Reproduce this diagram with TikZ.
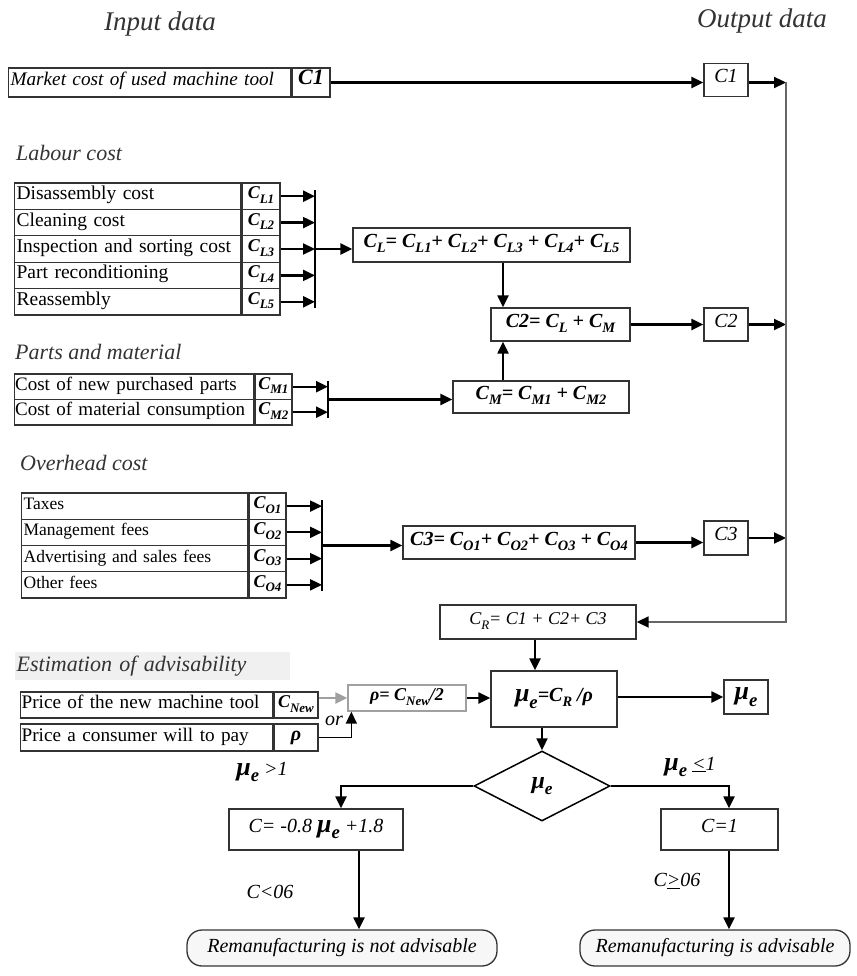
\documentclass[tikz,border=0pt]{standalone}
\usepackage{fontspec}
\setmainfont{Liberation Serif}
\usepackage{graphicx}
\usetikzlibrary{arrows.meta,shapes.geometric,calc}
% subscript set in the current font
\newcommand\sbs[1]{\raisebox{-0.25em}{\scalebox{0.72}{#1}}}
\newcommand\fsz[1]{\fontsize{#1}{#1}\selectfont}
\newcommand\bi{\bfseries\itshape}
\newcommand\mue[1]{{\fsz{#1}\bi μ\sbs{e}}}
\definecolor{boxline}{HTML}{333333}
\definecolor{busline}{HTML}{666666}
\definecolor{greyline}{HTML}{A0A0A0}
\definecolor{bandfill}{HTML}{F0F0F0}
\definecolor{roundfill}{HTML}{F7F7F7}

\begin{document}
\begin{tikzpicture}[x=1pt,y=-1pt,
  bx/.style={draw=boxline, line width=1.3pt, inner sep=0pt, text height=0.7em, text depth=0.2em},
  lab/.style={bx, anchor=west, align=left, inner xsep=3pt, font=\fsz{19.5}, text height=0.8em, text depth=0.1em},
  cell/.style={bx, anchor=west, font=\fsz{18}\bi},
  outbox/.style={bx, minimum width=44pt, font=\fsz{20}\itshape},
  sec/.style={anchor=west, inner sep=0pt, font=\fsz{22}\itshape, text=black!80},
  hdr/.style={inner sep=0pt, font=\fsz{27}\itshape, text=black!80},
  note/.style={inner sep=0pt, font=\fsz{20}\itshape},
  endbox/.style={draw=boxline, line width=1.3pt, rounded corners=15pt, fill=roundfill,
    minimum height=36pt, font=\fsz{20}\itshape},
  ln/.style={line width=2.2pt},
  arr/.style={line width=2.2pt, -{Triangle[length=12pt,width=11pt]}},
  garr/.style={line width=2.2pt, draw=greyline, -{Triangle[length=12pt,width=11pt,color=greyline]}},
  bus/.style={line width=1.8pt, draw=busline, -{Triangle[length=12pt,width=11pt,color=black]}},
]
\useasboundingbox (0,0) rectangle (856,976);

% column headers
\node[hdr] (hin) at (160,24) {Input data};
\node[hdr] (hout) at (762,21) {Output data};

% market cost of the used machine tool
\node[lab, text width=278pt, inner xsep=2pt, minimum height=29pt, font=\fsz{19.2}\itshape] (mk) at (8,82.5) {Market cost of used machine tool};
\node[cell, minimum width=38pt, minimum height=29pt, font=\fsz{22}\bi] (mkc) at (mk.east) {C1};
\node[outbox, minimum height=33pt] (o1) at (726,80) {C1};
\coordinate (b1) at (786,82.5);
\draw[arr] (mkc.east) -- (mkc.east -| o1.west);
\draw[arr] (o1.east |- b1) -- (b1);

% labour cost
\node[sec] (lcost) at (16,153) {Labour cost};
\coordinate (lbar) at (315,249);
\foreach \t/\s [count=\i] in {Disassembly cost/L1, Cleaning cost/L2,
    Inspection and sorting cost/L3, Part reconditioning/L4, Reassembly/L5}{
  \node[lab, text width=222pt, inner xsep=2pt, minimum height=26.4pt] (l\i) at (14,{196.2+(\i-1)*26.4}) {\t};
  \node[cell, minimum width=38pt, minimum height=26.4pt] (lc\i) at (l\i.east) {C\sbs{\s}};
  \draw[arr] (lc\i.east) -- (lc\i.east -| lbar);
}
\draw[ln] ($(lbar |- lc1.east)+(0,-6)$) -- ($(lbar |- lc5.east)+(0,6)$);
\node[bx, minimum width=277pt, minimum height=34pt, font=\fsz{20}\bi] (cl) at (491.5,245)
  {C\sbs{L}= C\sbs{L1}+ C\sbs{L2}+ C\sbs{L3} + C\sbs{L4}+ C\sbs{L5}};
\draw[arr] (lbar) -- (lbar -| cl.west);

% labour plus material
\node[bx, minimum width=139pt, minimum height=33pt, font=\fsz{20}\bi] (c2) at (560.5,324.5) {C2= C\sbs{L} + C\sbs{M}};
\coordinate (vx) at (503,0);
\draw[arr] (cl.south -| vx) -- (c2.north -| vx);
\node[outbox, minimum height=33pt] (o2) at (726,324.5) {C2};
\draw[arr] (c2.east) -- (o2.west);
\draw[arr] (o2.east) -- (o2.east -| b1);

% parts and material
\node[sec] (pmat) at (15,352) {Parts and material};
\coordinate (pbar) at (328,399.5);
\foreach \t/\s [count=\i] in {Cost of new purchased parts/M1, Cost of material consumption/M2}{
  \node[lab, text width=238pt, inner xsep=0.5pt, minimum height=25.5pt, font=\fsz{19}] (p\i) at (14,{386.7+(\i-1)*25.5}) {\t};
  \node[cell, minimum width=37pt, minimum height=25.5pt] (pc\i) at (p\i.east) {C\sbs{\s}};
  \draw[arr] (pc\i.east) -- (pc\i.east -| pbar);
}
\draw[ln] ($(pbar |- pc1.east)+(0,-6)$) -- ($(pbar |- pc2.east)+(0,6)$);
\node[bx, minimum width=176pt, minimum height=32pt, font=\fsz{20}\bi] (cm) at (541,397) {C\sbs{M}= C\sbs{M1} + C\sbs{M2}};
\draw[arr] (pbar) -- (pbar -| cm.west);
\draw[arr] (cm.north -| vx) -- (c2.south -| vx);

% overhead cost
\node[sec] (ohead) at (20,463) {Overhead cost};
\coordinate (hbar) at (322,545.5);
\foreach \t/\s [count=\i] in {Taxes/O1, Management fees/O2, Advertising and sales fees/O3, Other fees/O4}{
  \node[lab, text width=222pt, inner xsep=2pt, minimum height=26.25pt, font=\fsz{17.5}] (h\i) at (21,{506.1+(\i-1)*26.25}) {\t};
  \node[cell, minimum width=37pt, minimum height=26.25pt] (hc\i) at (h\i.east) {C\sbs{\s}};
  \draw[arr] (hc\i.east) -- (hc\i.east -| hbar);
}
\draw[ln] ($(hbar |- hc1.east)+(0,-6)$) -- ($(hbar |- hc4.east)+(0,6)$);
\node[bx, minimum width=232pt, minimum height=33pt, font=\fsz{20}\bi] (c3) at (519,542.5)
  {C3= C\sbs{O1}+ C\sbs{O2}+ C\sbs{O3} + C\sbs{O4}};
\draw[arr] (hbar) -- (hbar -| c3.west);
\node[outbox, minimum height=34pt] (o3) at (726,538) {C3};
\draw[arr] (c3.east) -- (c3.east -| o3.west);
\draw[arr] (o3.east) -- (o3.east -| b1);

% total remanufacturing cost
\node[bx, minimum width=196pt, minimum height=34pt, font=\fsz{18}\itshape] (cr) at (538,622) {C\sbs{R}= C1 + C2+ C3};
\coordinate (b4) at (786,622);
\draw[bus] (b1) -- (b4) -- (cr.east);

% estimation of advisability
\node[sec, fill=bandfill, text width=272pt, inner xsep=1.5pt, minimum height=28pt, align=left] (est) at (15,666) {Estimation of advisability};
\node[lab, text width=250pt, inner xsep=1pt, minimum height=26pt, font=\fsz{19.2}] (r1) at (20,705) {Price of the new machine tool};
\node[cell, minimum width=44pt, minimum height=26pt] (r1c) at (r1.east) {C\sbs{New}};
\node[lab, text width=250pt, inner xsep=1pt, minimum height=27pt, font=\fsz{19.2}] (r2) at (20,737.5) {Price a consumer will to pay};
\node[cell, minimum width=44pt, minimum height=27pt, font=\fsz{20}\bi] (r2c) at (r2.east) {ρ};
\node[bx, draw=greyline, minimum width=118pt, minimum height=26pt, font=\fsz{18}\bi] (rho) at (407,698) {ρ= C\sbs{New}/2};
\draw[garr] (r1c.east |- rho.west) -- (rho.west);
\node[note] (or) at (334,721) {or};
\draw[arr, line width=1.6pt] (r2c.east) -| ($(rho.south west)+(4,0)$);

\node[bx, minimum width=126pt, minimum height=56pt] (mu) at (554,699) {\mue{26}{\fsz{20}\bi=C\sbs{R} /ρ}};
\coordinate (ux) at (535,0);
\draw[arr] (cr.south -| ux) -- (mu.north -| ux);
\draw[arr] (rho.east) -- (rho.east -| mu.west);
\node[bx, minimum width=44pt, minimum height=34pt] (mo) at (746,697) {\mue{26}};
\draw[arr] (mu.east |- mo.west) -- (mo.west);

% decision
\node[draw=black, line width=1.5pt, diamond, minimum width=136pt, minimum height=70pt, inner sep=0pt] (dia) at (542,786) {\mue{24}};
\draw[arr] (mu.south -| dia.north) -- (dia.north);

% left branch
\node[bx, minimum width=174pt, minimum height=41pt, font=\fsz{20}\itshape] (cb1) at (316,829.5) {C= -0.8 \mue{26} +1.8};
\coordinate (lx) at ($(cb1.north)+(25,0)$);
\draw[arr] (dia.west) -| (lx);
\node[note] (g1) at (262,772) {\mue{26} >1};
\node[endbox, minimum width=310pt] (nb) at (342,948) {Remanufacturing is not advisable};
\coordinate (lx2) at ($(cb1.south)+(43,0)$);
\draw[arr] (lx2) -- (lx2 |- nb.north);
\node[note] (g3) at (270,892) {C<06};

% right branch
\node[bx, minimum width=117pt, minimum height=41pt, font=\fsz{20}\itshape] (cb2) at (719.5,829.5) {C=1};
\coordinate (rx) at ($(cb2.north)+(9.5,0)$);
\draw[arr] (dia.east) -| (rx);
\node[note] (g2) at (690,767) {\mue{26} \underline{<}1};
\node[endbox, minimum width=270pt] (ab) at (715,948) {Remanufacturing is advisable};
\coordinate (rx2) at ($(cb2.south)+(9.5,0)$);
\draw[arr] (rx2) -- (rx2 |- ab.north);
\node[note] (g4) at (677,881) {C\underline{>}06};
\end{tikzpicture}
\end{document}
